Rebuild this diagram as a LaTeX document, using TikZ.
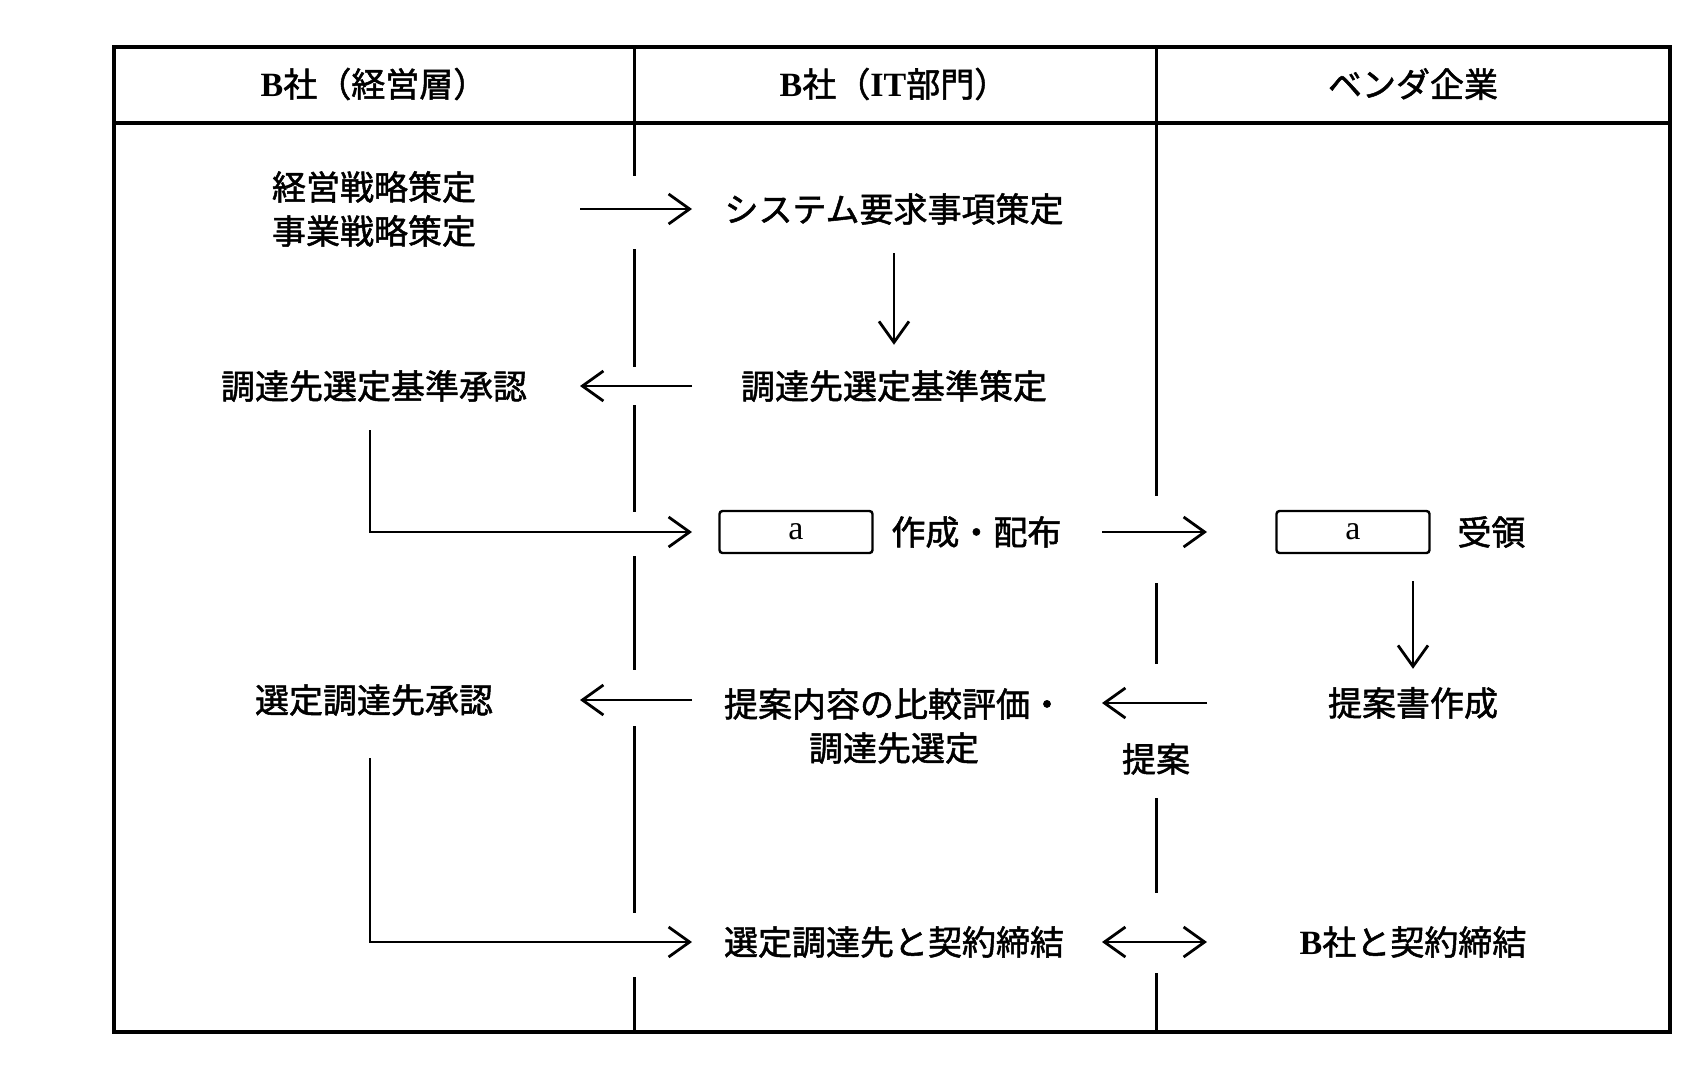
\documentclass[tikz,border=0pt]{standalone}
\usepackage{fontspec}
\setmainfont{Noto Sans CJK JP}[FakeBold=1.5]
\newfontfamily\lat{Liberation Serif}
\usetikzlibrary{arrows.meta}

\tikzset{
  lbl/.style={font=\fontsize{17}{22}\selectfont, inner sep=0pt, align=center},
  abox/.style={draw, line width=1.2pt, rounded corners=1.5pt, minimum width=76.5pt,
    minimum height=21pt, inner sep=0pt, text height=7.8pt, text depth=0pt,
    font=\fontsize{17}{22}\selectfont\lat},
  barb/.tip={Straight Barb[length=10.5pt,width=15pt,line width=1.4pt]},
  arr/.style={line width=1.4pt, -barb},
  dblarr/.style={line width=1.4pt, barb-barb},
  lane/.style={line width=1.5pt},
  frame/.style={line width=1.8pt}
}

\begin{document}
\begin{tikzpicture}[x=0.5pt, y=-0.5pt]
  \useasboundingbox (0,0) rectangle (1708,1077);
  % frame and header
  \draw[frame] (114,47) rectangle (1670,1032);
  \draw[frame] (114,123) -- (1670,123);
  \foreach \a/\b in {47/176, 249/367, 405/512, 556/670, 726/913, 977/1032}
    \draw[lane] (634,\a) -- (634,\b);
  \foreach \a/\b in {47/496, 583/664, 798/893, 973/1032}
    \draw[lane] (1156,\a) -- (1156,\b);
  \node[lbl] (h1) at (374,84) {{\lat\bfseries B}社（経営層）};
  \node[lbl] (h2) at (894,84) {{\lat\bfseries B}社（{\lat\bfseries IT}部門）};
  \node[lbl] (h3) at (1413,84) {ベンダ企業};
  % lanes: arrow ends
  \coordinate (L1) at (580,0);
  \coordinate (R1) at (692,0);
  \coordinate (L2) at (1102,0);
  \coordinate (R2) at (1207,0);
  % steps
  \node[lbl] (keiei) at (374,209) {経営戦略策定\\事業戦略策定};
  \node[lbl] (sys) at (894,209) {システム要求事項策定};
  \node[lbl] (kijun) at (894,386) {調達先選定基準策定};
  \node[lbl] (shonin) at (374,386) {調達先選定基準承認};
  \node[abox] (boxA) at (796,532) {a};
  \node[lbl, anchor=west] (sakusei) at (891,532) {作成・配布};
  \node[abox] (boxB) at (1353,532) {a};
  \node[lbl, anchor=west] (juryo) at (1457,532) {受領};
  \node[lbl] (teiansho) at (1413,703) {提案書作成};
  \node[lbl] (hikaku) at (894,726) {提案内容の比較評価・\\調達先選定};
  \node[lbl] (teian) at (1156,759) {提案};
  \node[lbl] (sentei) at (374,700) {選定調達先承認};
  \node[lbl] (keiyaku) at (894,942) {選定調達先と契約締結};
  \node[lbl] (bkeiyaku) at (1413,942) {{\lat\bfseries B}社と契約締結};
  % connectors
  \draw[arr] (keiei -| L1) -- (keiei -| R1);
  \draw[arr, shorten <=14pt, shorten >=12.5pt] (sys.south) -- (kijun.north);
  \draw[arr] (kijun -| R1) -- (kijun -| L1);
  \draw[arr, shorten <=14pt] ([xshift=-2pt]shonin.south) |- (boxA -| R1);
  \draw[arr] (boxB -| L2) -- (boxB -| R2);
  \draw[arr, shorten <=13.5pt, shorten >=9pt] (boxB.south -| teiansho) -- (teiansho.north);
  \draw[arr] (teiansho -| R2) -- (teiansho -| L2);
  \draw[arr] (sentei -| R1) -- (sentei -| L1);
  \draw[arr, shorten <=21pt] ([xshift=-2pt]sentei.south) |- (keiyaku -| R1);
  \draw[dblarr] (keiyaku -| L2) -- (keiyaku -| R2);
\end{tikzpicture}
\end{document}
